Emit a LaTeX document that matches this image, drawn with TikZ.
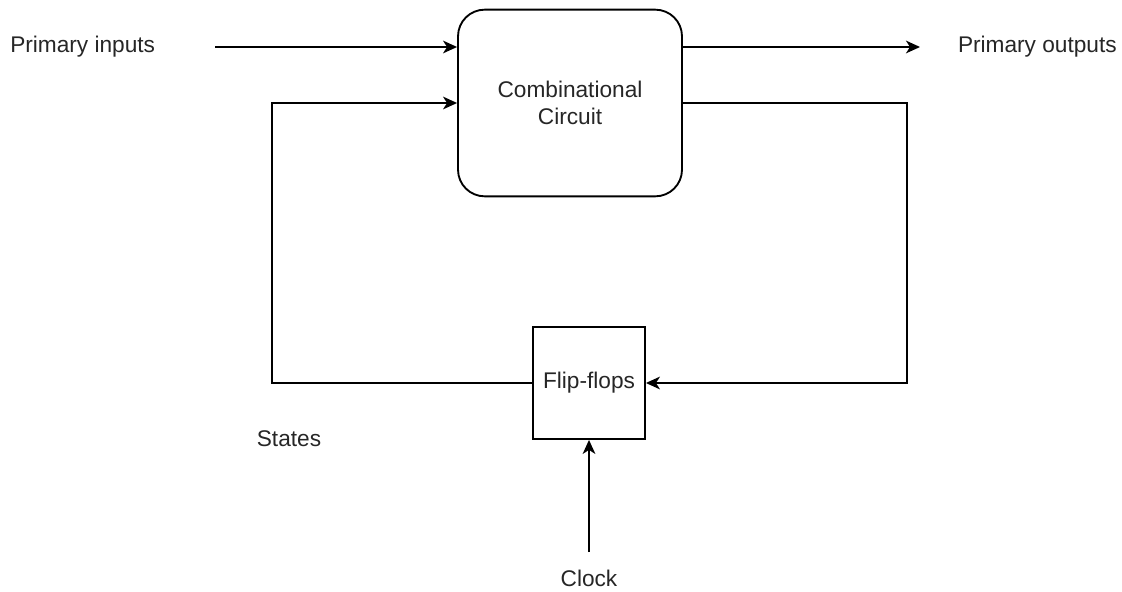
\documentclass[tikz,border=0pt]{standalone}
\usepackage{fontspec}
\setmainfont{Liberation Sans}
\usepackage{tikz}
\usetikzlibrary{positioning,arrows.meta}

\begin{document}
\begin{tikzpicture}[
    x=0.75pt, y=-0.75pt,
    every node/.style={font=\fontsize{17}{20}\selectfont, text=black!85},
    box/.style={draw, line width=1.4pt, align=center, inner sep=0pt},
    arr/.style={-{Stealth[length=10.5pt, width=9.5pt, inset=3pt]}, line width=1.4pt}
]
\useasboundingbox (0,0) rectangle (1122,592);

% Blocks
\node[box, rounded corners=20pt, minimum width=168pt, minimum height=140pt] (comb) at (570,103) {Combinational\\Circuit};
\node[box, minimum width=84pt, minimum height=84pt] (ff) at (589,383) {Flip-flops};

% Labels
\node[anchor=west, inner sep=0pt] (pin) at (10,47) {Primary inputs};
\node[anchor=east, inner sep=0pt] (pout) at (1117,47) {Primary outputs};
\node (states) at (289,439) {States};
\node (clock) at (589,578) {Clock};

% Corner points
\coordinate (inl) at (215,47);
\coordinate (outr) at (920,47);
\coordinate (lft) at (272,383);
\coordinate (rgt) at (907,103);
\coordinate (clk) at (589,552);

% Connectors
\draw[arr] (inl) -- (comb.west |- inl);
\draw[arr] (comb.east |- outr) -- (outr);
\draw[arr] (ff.west) -- (lft) |- (comb.west |- rgt);
\draw[arr] (comb.east |- rgt) -- (rgt) |- (ff.east);
\draw[arr] (clk) -- (ff.south);
\end{tikzpicture}
\end{document}
